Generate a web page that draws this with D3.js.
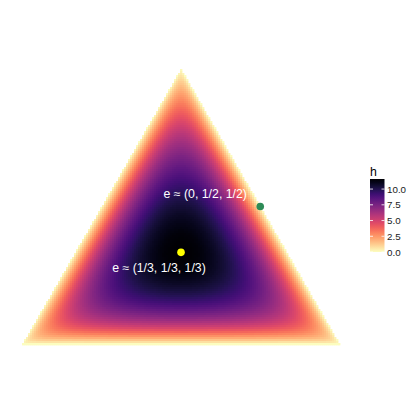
<!DOCTYPE html>
<html>
<head>
<meta charset="utf-8">
<script src="https://cdn.jsdelivr.net/npm/d3@7"></script>
<style>
  body { margin: 0; background: #fff; }
  svg { display: block; font-family: "Liberation Sans", Arial, sans-serif; }
</style>
</head>
<body>
<div id="chart"></div>
<script>
// Data -------------------------------------
// colour range of h, read off the legend
var hRange = [0, 11.6];
var legendTicks = [0, 2.5, 5, 7.5, 10];
// marked points (barycentric coordinates) and their labels
var pointNames = ['e ≈ (1/3, 1/3, 1/3)', 'e ≈ (0, 1/2, 1/2)'];
var pointCoords = [[1 / 3, 1 / 3, 1 / 3], [0, 1 / 2, 1 / 2]];
var pointColors = ['#ffff00', '#2e8b57'];

// h over the simplex: 0 on the edges, largest at the centre
// (shape follows the picture: scaled harmonic mean of the parts)
function hValue(a, b, c) {
  var s = a * b + b * c + a * c;
  if (s <= 0) return 0;
  return hRange[1] * 9 * a * b * c / s;
}

// Layout -------------------------------------
var width = 420, height = 420;
var s3 = Math.sqrt(3) / 2;

var svg = d3.select('#chart').append('svg')
  .attr('width', width)
  .attr('height', height);

// cartesian simplex coords -> pixels
var x = d3.scaleLinear().domain([0, 1]).range([22.5, 339.5]);
var y = d3.scaleLinear().domain([0, s3]).range([344, 69]);

var color = d3.scaleSequential(function(t) { return d3.interpolateMagma(1 - t); })
  .domain(hRange);

function toXY(p) {
  return [p[1] + p[2] / 2, p[2] * s3];
}

// Raster cells -------------------------------------
var step = 2;
var cells = [];
for (var py = 69; py < 344; py += step) {
  for (var px = 22; px < 340; px += step) {
    var cy = y.invert(py + step / 2);
    var cx = x.invert(px + step / 2);
    var c = cy / s3;
    var b = cx - c / 2;
    var a = 1 - b - c;
    if (a < 0 || b < 0 || c < 0) continue;
    cells.push({ px: px, py: py, h: hValue(a, b, c) });
  }
}

svg.append('g')
  .selectAll('rect')
  .data(cells)
  .enter()
  .append('rect')
  .attr('x', function(d) { return d.px; })
  .attr('y', function(d) { return d.py; })
  .attr('width', step + 0.4)
  .attr('height', step + 0.4)
  .attr('fill', function(d) { return color(d.h); });

// Points and labels -------------------------------------
var labelOffsets = [[-22, 16], [-55, -13]];

svg.append('g')
  .selectAll('circle')
  .data(pointCoords)
  .enter()
  .append('circle')
  .attr('cx', function(d) { return x(toXY(d)[0]); })
  .attr('cy', function(d) { return y(toXY(d)[1]); })
  .attr('r', 3.8)
  .attr('fill', function(d, i) { return pointColors[i]; });

svg.append('g')
  .selectAll('text')
  .data(pointCoords)
  .enter()
  .append('text')
  .attr('x', function(d, i) { return x(toXY(d)[0]) + labelOffsets[i][0]; })
  .attr('y', function(d, i) { return y(toXY(d)[1]) + labelOffsets[i][1]; })
  .attr('text-anchor', 'middle')
  .attr('dominant-baseline', 'central')
  .attr('fill', '#fff')
  .style('font-size', '12.3px')
  .text(function(d, i) { return pointNames[i]; });

// Legend -------------------------------------
var barX = 370, barW = 14.5;
var legendY = d3.scaleLinear().domain(hRange).range([252, 179]);

var grad = svg.append('defs').append('linearGradient')
  .attr('id', 'hgrad')
  .attr('x1', 0).attr('y1', 1).attr('x2', 0).attr('y2', 0);
grad.selectAll('stop')
  .data(d3.range(0, 1.0001, 0.05))
  .enter()
  .append('stop')
  .attr('offset', function(t) { return t; })
  .attr('stop-color', function(t) { return color(hRange[0] + t * (hRange[1] - hRange[0])); });

var legend = svg.append('g');

legend.append('text')
  .attr('x', barX)
  .attr('y', 175.5)
  .style('font-size', '12.3px')
  .attr('fill', '#000')
  .text('h');

legend.append('rect')
  .attr('x', barX)
  .attr('y', legendY(hRange[1]))
  .attr('width', barW)
  .attr('height', legendY(hRange[0]) - legendY(hRange[1]))
  .attr('fill', 'url(#hgrad)');

var tk = legend.selectAll('.tick')
  .data(legendTicks)
  .enter()
  .append('g')
  .attr('class', 'tick');

tk.append('line')
  .attr('x1', barX).attr('x2', barX + 3)
  .attr('y1', function(d) { return legendY(d); })
  .attr('y2', function(d) { return legendY(d); })
  .attr('stroke', '#fff').attr('stroke-opacity', 0.8);
tk.append('line')
  .attr('x1', barX + barW - 3).attr('x2', barX + barW)
  .attr('y1', function(d) { return legendY(d); })
  .attr('y2', function(d) { return legendY(d); })
  .attr('stroke', '#fff').attr('stroke-opacity', 0.8);
tk.append('text')
  .attr('x', barX + barW + 2.5)
  .attr('y', function(d) { return legendY(d); })
  .attr('dominant-baseline', 'central')
  .style('font-size', '9.8px')
  .attr('fill', '#1a1a1a')
  .text(function(d) { return d3.format('.1f')(d); });
</script>
</body>
</html>
